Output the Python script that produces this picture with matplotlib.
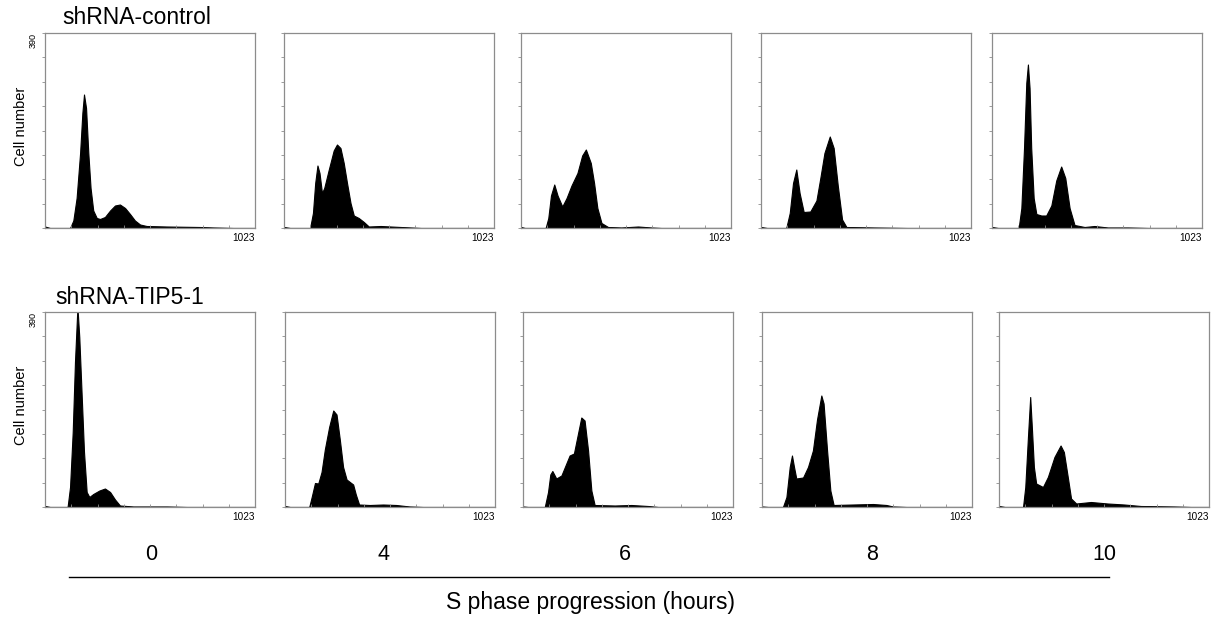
import matplotlib
matplotlib.use("Agg")
import matplotlib.pyplot as plt
from matplotlib.lines import Line2D

plt.rcParams['font.family'] = ['Liberation Sans', 'DejaVu Sans']

# ---------------- data (DNA content channel 0-1023, cell number 0-390) ----------------
hours = ["0", "4", "6", "8", "10"]
row_labels = ["shRNA-control", "shRNA-TIP5-1"]
y_max = 390
x_max = 1023

# shRNA-control
ctrl_0h_x = [0, 24, 122, 138, 154, 171, 182, 190, 200, 211, 222, 235, 252, 268, 292, 317, 341, 365, 390, 414, 438, 463, 495, 593, 755, 820, 917, 1023]
ctrl_0h_y = [3, 0, 0, 15, 60, 150, 230, 267, 240, 150, 80, 35, 20, 18, 22, 35, 45, 47, 40, 28, 15, 7, 4, 3, 2, 1, 0, 0]

ctrl_4h_x = [0, 29, 127, 141, 152, 163, 173, 185, 196, 217, 242, 258, 275, 291, 307, 324, 340, 364, 389, 413, 471, 520, 618, 667, 1023]
ctrl_4h_y = [2, 0, 0, 30, 90, 125, 110, 70, 80, 115, 155, 167, 160, 130, 90, 50, 25, 20, 12, 3, 4, 3, 1, 0, 0]

ctrl_6h_x = [0, 19, 120, 133, 146, 162, 178, 201, 222, 246, 275, 298, 316, 340, 356, 372, 392, 424, 489, 570, 635, 683, 1023]
ctrl_6h_y = [2, 0, 0, 20, 65, 87, 65, 43, 60, 85, 110, 145, 157, 130, 90, 40, 10, 2, 1, 3, 1, 0, 0]

ctrl_8h_x = [0, 29, 123, 140, 156, 172, 188, 208, 240, 270, 289, 309, 335, 354, 374, 395, 416, 549, 711, 1023]
ctrl_8h_y = [2, 0, 0, 30, 90, 117, 70, 32, 33, 55, 100, 150, 183, 160, 85, 17, 2, 1, 0, 0]

ctrl_10h_x = [0, 29, 130, 143, 156, 167, 175, 183, 191, 203, 216, 240, 264, 289, 313, 337, 357, 378, 402, 451, 499, 564, 661, 759, 1023]
ctrl_10h_y = [2, 0, 0, 40, 160, 290, 327, 280, 160, 60, 28, 25, 25, 45, 95, 123, 100, 40, 6, 2, 4, 1, 1, 0, 0]

# shRNA-TIP5-1
tip5_0h_x = [0, 24, 110, 122, 135, 146, 158, 167, 179, 190, 203, 216, 235, 265, 292, 317, 341, 365, 430, 593, 690, 1023]
tip5_0h_y = [2, 0, 0, 40, 150, 290, 400, 340, 220, 110, 30, 20, 26, 33, 37, 30, 15, 3, 1, 1, 0, 0]

tip5_4h_x = [0, 24, 118, 130, 146, 162, 178, 194, 215, 235, 251, 267, 283, 300, 332, 345, 361, 413, 478, 542, 607, 672, 1023]
tip5_4h_y = [2, 0, 0, 20, 48, 47, 70, 115, 160, 193, 185, 135, 80, 55, 45, 25, 5, 4, 5, 4, 1, 0, 0]

tip5_6h_x = [0, 24, 106, 122, 133, 143, 162, 187, 211, 227, 248, 268, 284, 300, 317, 333, 349, 447, 528, 609, 658, 1023]
tip5_6h_y = [1, 0, 0, 30, 65, 72, 57, 63, 87, 103, 107, 147, 179, 173, 113, 33, 4, 3, 4, 2, 0, 0]

tip5_8h_x = [0, 29, 102, 119, 135, 146, 156, 167, 200, 224, 248, 268, 289, 300, 317, 333, 349, 443, 541, 606, 638, 703, 1023]
tip5_8h_y = [1, 0, 0, 20, 80, 103, 80, 57, 59, 80, 113, 175, 223, 207, 113, 33, 4, 5, 6, 4, 1, 0, 0]

tip5_10h_x = [0, 28, 117, 128, 141, 152, 160, 170, 181, 214, 238, 270, 300, 316, 335, 351, 376, 448, 529, 610, 691, 853, 934, 1023]
tip5_10h_y = [2, 0, 0, 40, 140, 220, 160, 80, 47, 40, 60, 100, 123, 110, 60, 17, 7, 10, 7, 5, 2, 1, 0, 0]

rows = [
    [(ctrl_0h_x, ctrl_0h_y), (ctrl_4h_x, ctrl_4h_y), (ctrl_6h_x, ctrl_6h_y),
     (ctrl_8h_x, ctrl_8h_y), (ctrl_10h_x, ctrl_10h_y)],
    [(tip5_0h_x, tip5_0h_y), (tip5_4h_x, tip5_4h_y), (tip5_6h_x, tip5_6h_y),
     (tip5_8h_x, tip5_8h_y), (tip5_10h_x, tip5_10h_y)],
]

# ---------------- layout (pixels) ----------------
W, H = 1225, 617
fig = plt.figure(figsize=(W / 100, H / 100), dpi=100)
row_top = [33, 312]
row_bottom = [228, 507]
row_lefts = [[45, 284, 521, 761, 992], [45, 285, 523, 762, 999]]
panel_w = 210
spine_col = '#8c8c8c'

for r, row in enumerate(rows):
    for c, (xs, ys) in enumerate(row):
        left = row_lefts[r][c]
        ax = fig.add_axes([left / W, 1 - row_bottom[r] / H, panel_w / W,
                           (row_bottom[r] - row_top[r]) / H])
        ax.fill_between(xs, ys, 0, color='black', linewidth=0.8, edgecolor='black')
        ax.set_xlim(0, x_max)
        ax.set_ylim(0, y_max)
        for s in ax.spines.values():
            s.set_color(spine_col)
            s.set_linewidth(0.9)
        ax.set_yticks([y_max * k / 8 for k in range(9)])
        ax.set_xticks([x_max * k / 8 for k in range(9)])
        ax.tick_params(axis='y', direction='out', length=2.5, width=0.6, color=spine_col,
                       labelleft=False)
        ax.tick_params(axis='x', direction='in', length=2, width=0.6, color=spine_col,
                       labelbottom=False)
        ax.text(1.0, -0.025, "1023", transform=ax.transAxes, ha='right', va='top',
                fontsize=7.2)
        if c == 0:
            ax.text(-0.055, 1.0, "390", transform=ax.transAxes, ha='center', va='top',
                    rotation=90, fontsize=6.5)
            ax.text(-0.115, 0.52, "Cell number", transform=ax.transAxes, ha='center',
                    va='center', rotation=90, fontsize=10.5)

# row labels
fig.text(62 / W, 1 - 18 / H, row_labels[0], ha='left', va='center', fontsize=16.5)
fig.text(55 / W, 1 - 298 / H, row_labels[1], ha='left', va='center', fontsize=16.5)

# hour labels
hour_x = [151, 384, 625, 872, 1104]
for hx, lab in zip(hour_x, hours):
    fig.text(hx / W, 1 - 555 / H, lab, ha='center', va='center', fontsize=15.5)

fig.add_artist(Line2D([69 / W, 1109 / W], [1 - 577 / H, 1 - 577 / H], color='black',
                      linewidth=1.0, transform=fig.transFigure))
fig.text(590 / W, 1 - 602 / H, "S phase progression (hours)", ha='center', va='center',
         fontsize=16.5)

fig.savefig("out.png", dpi=100)
